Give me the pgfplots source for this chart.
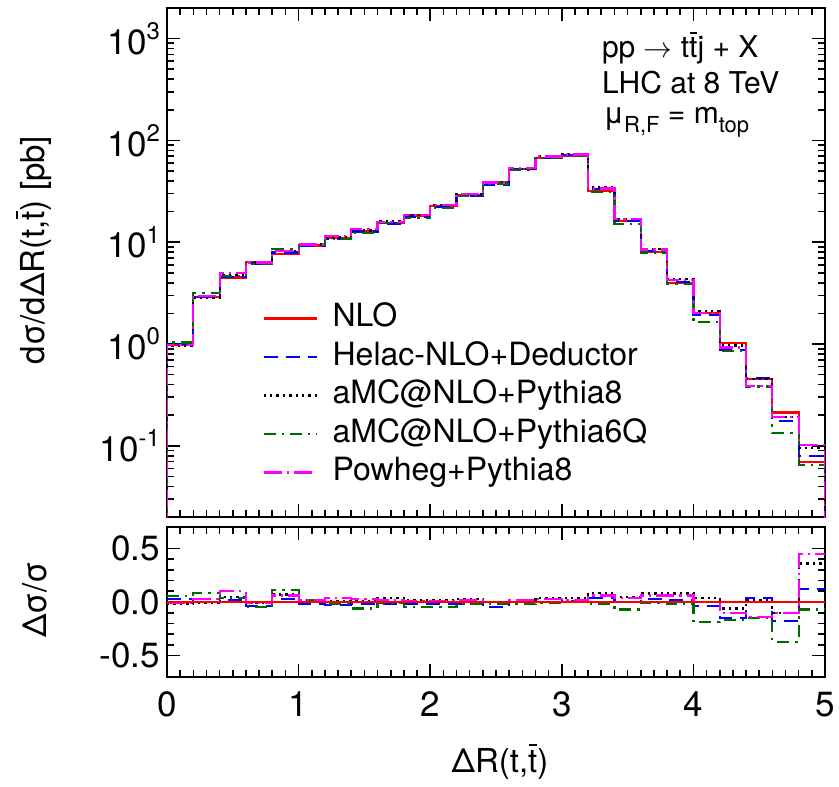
\documentclass[border=0pt]{standalone}
\usepackage{fontspec}
\setmainfont{TeX Gyre Heros}
\usepackage{pgfplots}
\usepackage{pgfplotstable}
\pgfplotsset{compat=1.18}
\definecolor{cRed}{RGB}{255,0,0}
\definecolor{cBlue}{RGB}{0,0,255}
\definecolor{cGreen}{RGB}{0,105,0}
\definecolor{cMag}{RGB}{255,0,255}
\newcommand{\ex}[1]{\raisebox{0.42em}{\fontsize{12}{12}\selectfont #1}}
\newcommand{\lsub}[1]{\raisebox{-4.5pt}{\fontsize{11}{11}\selectfont #1}}
\newcommand{\tbar}{\makebox[0pt][l]{\kern0.03em\raisebox{0.8em}{\rule{0.24em}{0.07em}}}t}

% dsigma/dDeltaR, bins of 0.2 (left edges), guard rows close the histograms
\pgfplotstableread{
x    nlo     hel     a8      a6      pw
0.0  0.0001  0.0001  0.0001  0.0001  0.0001
0.0  0.98    1.009   0.960   1.034   0.970
0.2  2.9     2.90    2.871   3.147   2.987
0.4  4.5     4.59    4.725   4.68    4.95
0.6  6.4     6.176   6.336   6.08    6.336
0.8  7.7     7.931   8.239   8.547   8.162
1.0  9.3     9.114   9.486   9.44    9.486
1.2  11.0    10.67   11.11   10.78   11.44
1.4  13.0    12.74   13.07   12.22   13.39
1.6  15.5    15.27   16.12   15.35   15.81
1.8  18.3    17.93   18.67   17.39   18.39
2.0  22.8    22.34   23.26   21.66   23.03
2.2  29.0    28.42   29.87   28.42   29.58
2.4  38.6    36.67   38.6    37.83   38.6
2.6  52.7    52.7    52.7    51.65   53.49
2.8  67.6    67.6    70.3    66.92   69.63
3.0  71.3    72.01   74.15   71.3    72.73
3.2  31.8    33.07   34.5    31.16   33.71
3.4  16.3    16.3    17.03   15.16   16.95
3.6  8.0     8.2     8.64    7.92    8.48
3.8  4.0     4.06    4.32    3.92    4.24
4.0  2.02    1.939   2.101   1.636   2.02
4.2  1.03    0.8755  0.9682  0.8549  0.927
4.4  0.45    0.468   0.4568  0.3825  0.387
4.6  0.213   0.1747  0.1917  0.1342  0.1917
4.8  0.070   0.0788  0.0952  0.0651  0.1015
5.0  0.070   0.0788  0.0952  0.0651  0.1015
5.0  0.0001  0.0001  0.0001  0.0001  0.0001
}\topdata

% relative deviation from NLO
\pgfplotstableread{
x    nlo  hel     a8      a6      pw
0.0  0    0.03    -0.02   0.055   -0.01
0.2  0    0.00    -0.01   0.085   0.03
0.4  0    0.02    0.05    0.04    0.10
0.6  0    -0.035  -0.01   -0.05   -0.01
0.8  0    0.03    0.07    0.11    0.06
1.0  0    -0.02   0.02    0.015   0.02
1.2  0    -0.03   0.01    -0.02   0.04
1.4  0    -0.02   0.005   -0.06   0.03
1.6  0    -0.015  0.04    -0.01   0.02
1.8  0    -0.02   0.02    -0.05   0.005
2.0  0    -0.02   0.02    -0.05   0.01
2.2  0    -0.02   0.03    -0.02   0.02
2.4  0    -0.05   0.0     -0.02   0.0
2.6  0    0.0     0.0     -0.02   0.015
2.8  0    0.0     0.04    -0.01   0.03
3.0  0    0.01    0.04    0.0     0.02
3.2  0    0.04    0.085   -0.02   0.06
3.4  0    0.0     0.045   -0.07   0.04
3.6  0    0.025   0.08    -0.01   0.06
3.8  0    0.015   0.08    -0.02   0.06
4.0  0    -0.04   0.04    -0.19   0.0
4.2  0    -0.15   -0.06   -0.17   -0.10
4.4  0    0.04    0.015   -0.15   -0.14
4.6  0    -0.18   -0.10   -0.37   -0.10
4.8  0    0.125   0.36    -0.07   0.45
5.0  0    0.125   0.36    -0.07   0.45
}\ratiodata

\pgfplotsset{
  panel/.style={
    scale only axis, width=329pt, xmin=0, xmax=5,
    axis line style={line width=1pt}, tick style={black, line width=0.8pt},
    major tick length=6.5pt, minor tick length=3.5pt,
    xtick={0,1,2,3,4,5}, minor x tick num=9,
    tick label style={font=\fontsize{17.5}{19}\selectfont},
    every axis plot/.append style={line width=1.1pt, const plot mark left, no marks}},
  sNLO/.style={cRed, solid},
  sHel/.style={cBlue, dash pattern=on 7pt off 4pt},
  sA8/.style={black, dash pattern=on 1.2pt off 2pt},
  sA6/.style={cGreen, dash pattern=on 6pt off 3pt on 1.2pt off 3pt},
  sPw/.style={cMag, dash pattern=on 9pt off 2.5pt on 1.2pt off 2.5pt},
}

\begin{document}
\begin{tikzpicture}
\useasboundingbox (0pt,0pt) rectangle (419.5pt,-393pt);

\begin{axis}[panel, at={(83.5pt,-4pt)}, anchor=north west, height=254.5pt,
  ymode=log, ymin=0.02, ymax=2000,
  ytick={0.1,1,10,100,1000},
  yticklabels={10\ex{-1},10\ex{0},10\ex{1},10\ex{2},10\ex{3}},
  minor ytick={0.02,0.03,0.04,0.05,0.06,0.07,0.08,0.09,
    0.2,0.3,0.4,0.5,0.6,0.7,0.8,0.9,2,3,4,5,6,7,8,9,
    20,30,40,50,60,70,80,90,200,300,400,500,600,700,800,900,2000},
  xticklabels={},
  legend style={at={(rel axis cs:0.1444,0.424)}, anchor=north west,
    draw=none, fill=none, inner sep=0pt, row sep=2.25pt,
    font=\fontsize{16}{18}\selectfont,
    nodes={inner sep=1pt, text height=11.5pt, text depth=3.5pt},
    cells={anchor=west}},
  legend image code/.code={\draw[#1] (0pt,0pt) -- (26.5pt,0pt); \path (33pt,0pt);}]
\addplot[sNLO] table[x=x, y=nlo] {\topdata};
\addlegendentry{NLO}
\addplot[sHel] table[x=x, y=hel] {\topdata};
\addlegendentry{Helac-NLO+Deductor}
\addplot[sA8] table[x=x, y=a8] {\topdata};
\addlegendentry{aMC@NLO+Pythia8}
\addplot[sA6] table[x=x, y=a6] {\topdata};
\addlegendentry{aMC@NLO+Pythia6Q}
\addplot[sPw] table[x=x, y=pw] {\topdata};
\addlegendentry{Powheg+Pythia8}
\end{axis}

\begin{axis}[panel, at={(83.5pt,-263.5pt)}, anchor=north west, height=75pt,
  ymin=-0.7, ymax=0.7, ytick={-0.5,0,0.5}, yticklabels={-0.5,0.0,0.5},
  minor y tick num=4, xticklabels={0,1,2,3,4,5},
  xticklabel style={yshift=-4pt}]
\addplot[sHel] table[x=x, y=hel] {\ratiodata};
\addplot[sA8] table[x=x, y=a8] {\ratiodata};
\addplot[sA6] table[x=x, y=a6] {\ratiodata};
\addplot[sPw] table[x=x, y=pw] {\ratiodata};
\addplot[sNLO] table[x=x, y=nlo] {\ratiodata};
\end{axis}

\node[rotate=90, font=\fontsize{16.5}{18}\selectfont] at (17pt,-125pt) {dσ/dΔR(t,\tbar) [pb]};
\node[rotate=90, font=\fontsize{16.5}{18}\selectfont] at (17.5pt,-300pt) {Δσ/σ};
\node[font=\fontsize{16.5}{18}\selectfont] at (250pt,-381pt) {ΔR(t,\tbar)};

\begin{scope}[every node/.style={anchor=base west, inner sep=0pt, font=\fontsize{15}{17}\selectfont}]
\node at (300.8pt,-29pt) {pp $\rightarrow$ t\tbar j + X};
\node at (300.8pt,-47pt) {LHC at 8 TeV};
\node at (301.5pt,-62pt) {μ\lsub{R,F} = m\lsub{top}};
\end{scope}
\end{tikzpicture}
\end{document}
